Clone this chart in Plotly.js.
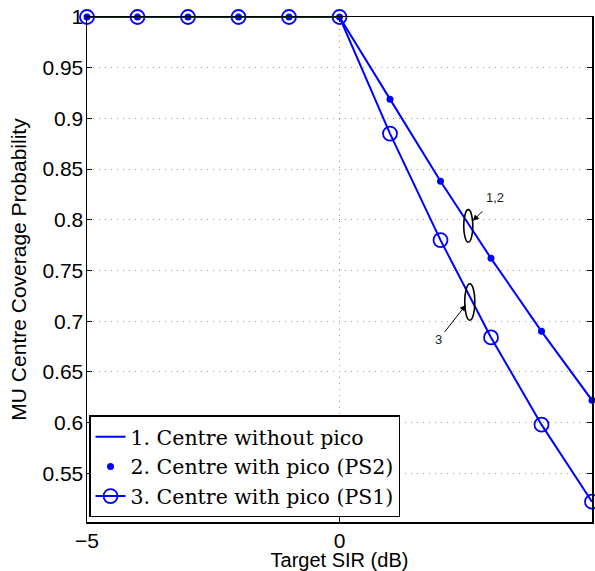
<!DOCTYPE html>
<html>
<head>
<meta charset="utf-8">
<script src="https://cdn.plot.ly/plotly-3.0.1.min.js"></script>
<style>html,body{margin:0;padding:0;background:#fff;}#chart{width:595px;height:571px;}</style>
</head>
<body>
<div id="chart"></div>
<script>
// ---- data ----
const targetSIR = [-5, -4, -3, -2, -1, 0, 1, 2, 3, 4, 5];
const centreWithoutPico = [1, 1, 1, 1, 1, 1, 0.919, 0.838, 0.762, 0.690, 0.622];
const centreWithPicoPS2 = [1, 1, 1, 1, 1, 1, 0.919, 0.838, 0.762, 0.690, 0.622];
const centreWithPicoPS1 = [1, 1, 1, 1, 1, 1, 0.885, 0.780, 0.684, 0.598, 0.522];
const seriesNames = ['1. Centre without pico', '2. Centre with pico (PS2)', '3. Centre with pico (PS1)'];
const xTicks = [-5, 0, 5];
const yTicks = [0.55, 0.6, 0.65, 0.7, 0.75, 0.8, 0.85, 0.9, 0.95, 1];
const yTickText = ['0.55', '0.6', '0.65', '0.7', '0.75', '0.8', '0.85', '0.9', '0.95', '1'];
// group markers (ellipses) and their labels
const groupLabels = ['1,2', '3'];
const ellipseX = [2.55, 2.58];
const ellipseY = [0.794, 0.719];
const ellipseW = [0.18, 0.2];
const ellipseH = [0.032, 0.036];
const arrowHeadX = [2.64, 2.50];
const arrowHeadY = [0.799, 0.716];
const arrowTailX = [2.86, 2.06];
const arrowTailY = [0.810, 0.688];
const labelX = [3.07, 1.97];
const labelY = [0.822, 0.682];

const blue = '#0000FF';
const traces = [
  {x: targetSIR, y: centreWithoutPico, name: seriesNames[0], mode: 'lines',
   line: {color: blue, width: 2}, cliponaxis: false, legendgroup: 'a'},
  {x: targetSIR, y: centreWithPicoPS2, name: seriesNames[1], mode: 'markers',
   marker: {color: blue, size: 7, symbol: 'circle'}, cliponaxis: false, legendgroup: 'b'},
  {x: targetSIR, y: centreWithPicoPS1, name: seriesNames[2], mode: 'lines+markers',
   line: {color: blue, width: 2},
   marker: {color: blue, size: 14, symbol: 'circle-open', line: {color: blue, width: 1.8}},
   cliponaxis: false, legendgroup: 'c'}
];

const shapes = ellipseX.map((cx, i) => ({
  type: 'circle', xref: 'x', yref: 'y',
  x0: cx - ellipseW[i] / 2, x1: cx + ellipseW[i] / 2,
  y0: ellipseY[i] - ellipseH[i] / 2, y1: ellipseY[i] + ellipseH[i] / 2,
  line: {color: 'black', width: 1.6}
}));

const annotations = [];
groupLabels.forEach((t, i) => {
  annotations.push({x: arrowHeadX[i], y: arrowHeadY[i], ax: arrowTailX[i], ay: arrowTailY[i],
    xref: 'x', yref: 'y', axref: 'x', ayref: 'y', text: '', showarrow: true,
    arrowhead: 2, arrowsize: 1.2, arrowwidth: 1, arrowcolor: 'black', standoff: 0, startstandoff: 0});
  annotations.push({x: labelX[i], y: labelY[i], xref: 'x', yref: 'y', text: t, showarrow: false,
    font: {family: 'Liberation Sans, Arial, sans-serif', size: 13, color: '#222'}});
});

const axisCommon = {
  showline: true, linecolor: 'black', linewidth: 1.5, mirror: 'ticks',
  ticks: 'inside', ticklen: 5, tickwidth: 1, tickcolor: 'black',
  showgrid: true, gridcolor: '#9a9a9a', griddash: '1px,5px', gridwidth: 1,
  zeroline: false,
  tickfont: {family: 'Liberation Sans, Arial, sans-serif', size: 21, color: 'black'}
};

const layout = {
  width: 595, height: 571,
  margin: {l: 87, r: 3, t: 17, b: 49, pad: 0},
  paper_bgcolor: 'white', plot_bgcolor: 'white',
  showlegend: true,
  legend: {x: 0.004, y: 0.009, xanchor: 'left', yanchor: 'bottom',
    bgcolor: 'white', bordercolor: 'black', borderwidth: 1.5,
    font: {family: 'DejaVu Serif, serif', size: 20.5, color: 'black'},
    tracegroupgap: 0, traceorder: 'normal'},
  xaxis: Object.assign({}, axisCommon, {
    range: [-5, 5], tickvals: xTicks, ticklabelstandoff: -1,
    title: {text: 'Target SIR (dB)', standoff: 4,
      font: {family: 'Liberation Sans, Arial, sans-serif', size: 20, color: 'black'}}
  }),
  yaxis: Object.assign({}, axisCommon, {
    range: [0.502, 1], tickvals: yTicks, ticktext: yTickText, ticklabelstandoff: -2,
    title: {text: 'MU Centre Coverage Probability', standoff: 10,
      font: {family: 'Liberation Sans, Arial, sans-serif', size: 21, color: 'black'}}
  }),
  shapes: shapes,
  annotations: annotations
};

Plotly.newPlot('chart', traces, layout, {displayModeBar: false, staticPlot: true});
</script>
</body>
</html>
